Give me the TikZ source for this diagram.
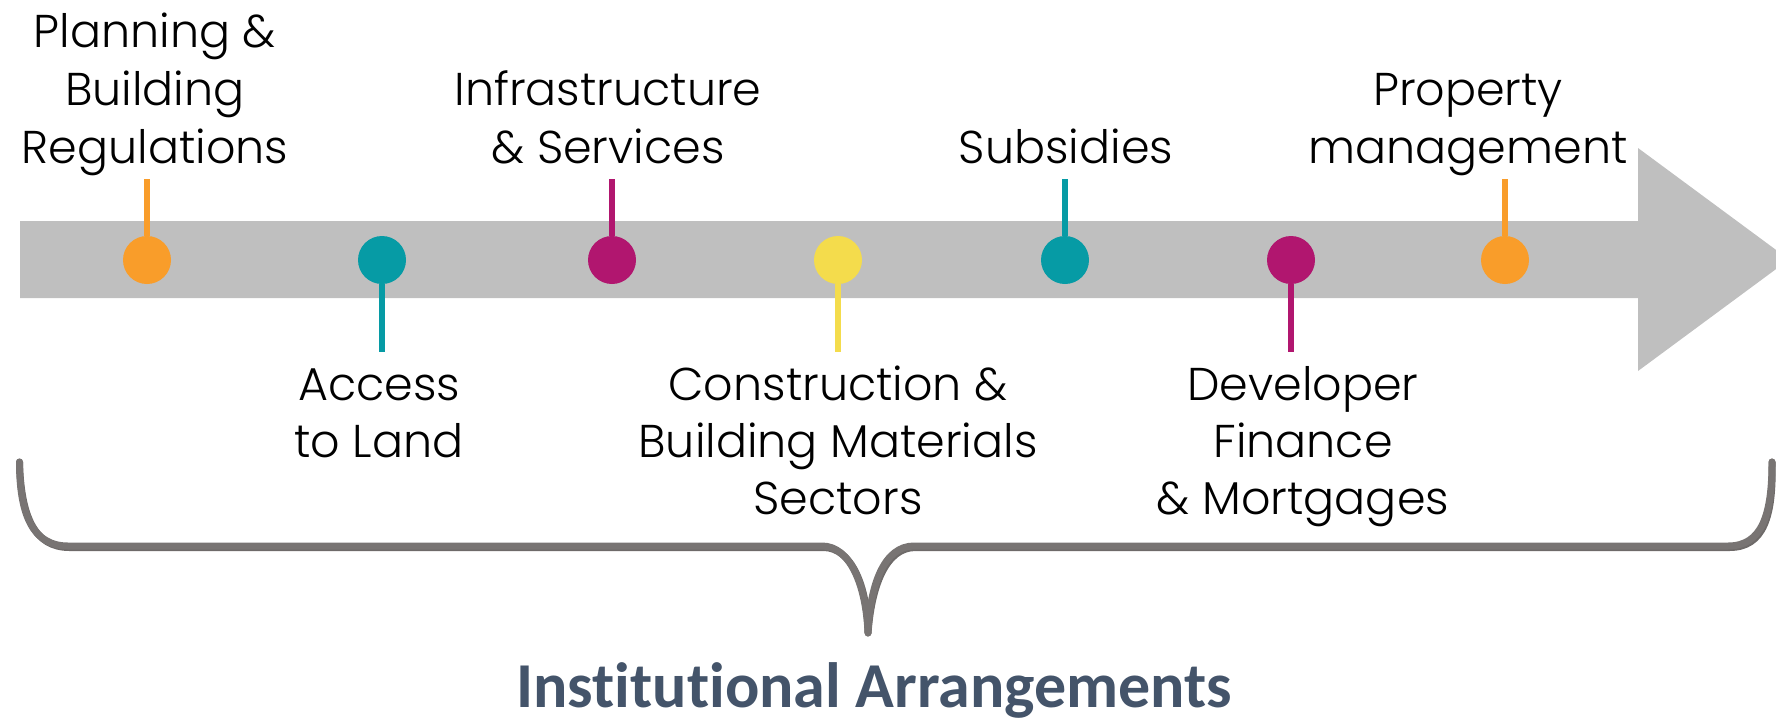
\documentclass[tikz,border=0pt]{standalone}
\usepackage{fontspec}
\setmainfont{Poppins}[UprightFont=* Light]
\newfontfamily\titlefont{Carlito}[Ligatures=NoCommon]

\definecolor{bandgray}{HTML}{BFBFBF}
\definecolor{bracegray}{HTML}{787473}
\definecolor{braceshade}{HTML}{6E6A69}
\definecolor{dotorange}{HTML}{F99D2A}
\definecolor{dotteal}{HTML}{069BA5}
\definecolor{dotmagenta}{HTML}{B1166F}
\definecolor{dotyellow}{HTML}{F4DC4C}
\definecolor{titleblue}{HTML}{44546A}

% centred stack of lines whose baseline is that of the first line
\newcommand{\stacklines}[1]{\vtop{\halign{\hfil##\hfil\cr#1\crcr}}}

\tikzset{
  dot/.style={circle, minimum size=48pt, inner sep=0pt, draw=none},
  stem/.style={line width=6pt},
  lbl/.style={anchor=base, inner sep=0pt, text=black,
    font=\fontsize{46}{58}\selectfont},
  lbllow/.style={anchor=base, inner sep=0pt, text=black,
    font=\fontsize{46}{57}\selectfont},
  brace/.style={draw=bracegray, line width=7pt, line cap=round, line join=round},
  braceshadow/.style={draw=braceshade, line width=7pt, line cap=round, line join=round},
}

\begin{document}
\begin{tikzpicture}[x=1pt, y=-1pt]
\useasboundingbox (0,0) rectangle (1776,718);
\clip (0,0) rectangle (1776,718);

% timeline arrow
\fill[bandgray] (20,221) -- (1638,221) -- (1638,148) -- (1789,259.5)
  -- (1638,371) -- (1638,298) -- (20,298) -- cycle;

% stem ends
\coordinate (e1) at (147,179);
\coordinate (e2) at (382,352);
\coordinate (e3) at (612,179);
\coordinate (e4) at (838,352);
\coordinate (e5) at (1065,179);
\coordinate (e6) at (1291,352);
\coordinate (e7) at (1505,179);

% milestones
\node[dot, fill=dotorange]  (d1) at (147,260) {};
\node[dot, fill=dotteal]    (d2) at (382,260) {};
\node[dot, fill=dotmagenta] (d3) at (612,260) {};
\node[dot, fill=dotyellow]  (d4) at (838,260) {};
\node[dot, fill=dotteal]    (d5) at (1065,260) {};
\node[dot, fill=dotmagenta] (d6) at (1291,260) {};
\node[dot, fill=dotorange]  (d7) at (1505,260) {};

\draw[stem, dotorange]  (e1) -- (d1.north);
\draw[stem, dotteal]    (d2.south) -- (e2);
\draw[stem, dotmagenta] (e3) -- (d3.north);
\draw[stem, dotyellow]  (d4.south) -- (e4);
\draw[stem, dotteal]    (e5) -- (d5.north);
\draw[stem, dotmagenta] (d6.south) -- (e6);
\draw[stem, dotorange]  (e7) -- (d7.north);

% labels above the arrow
\node[lbl] (t1) at (155,47)   {\stacklines{Planning \&\cr Building\cr Regulations}};
\node[lbl] (t3) at (608,105)  {\stacklines{Infrastructure\cr \& Services}};
\node[lbl] (t5) at (1066,163) {Subsidies};
\node[lbl] (t7) at (1468,105) {\stacklines{Property\cr management}};

% labels below the arrow
\node[lbllow] (t2) at (379,400)  {\stacklines{Access\cr to Land}};
\node[lbllow] (t4) at (838,400)  {\stacklines{Construction \&\cr Building Materials\cr Sectors}};
\node[lbllow] (t6) at (1303,400) {\stacklines{Developer\cr Finance\cr \& Mortgages}};

% brace gathering everything, with a faint shade under it
\coordinate (bl) at (19.5,462);
\coordinate (bm) at (868,633);
\coordinate (br) at (1772,462);
\begin{scope}[shift={(1.5,1.5)}]
\draw[braceshadow] (bl) .. controls (19.5,515) and (33,546) .. (68,546) -- (822,546)
  .. controls (850,546) and (866,585) .. (bm)
  .. controls (870,585) and (884,546) .. (914,546) -- (1728,546)
  .. controls (1762,546) and (1772,515) .. (br);
\end{scope}
\draw[brace] (bl) .. controls (19.5,515) and (33,546) .. (68,546) -- (822,546)
  .. controls (850,546) and (866,585) .. (bm)
  .. controls (870,585) and (884,546) .. (914,546) -- (1728,546)
  .. controls (1762,546) and (1772,515) .. (br);

\node[anchor=base, inner sep=0pt, text=titleblue,
  font=\titlefont\bfseries\fontsize{64}{70}\selectfont] (title) at (874,707)
  {Institutional Arrangements};
\end{tikzpicture}
\end{document}
